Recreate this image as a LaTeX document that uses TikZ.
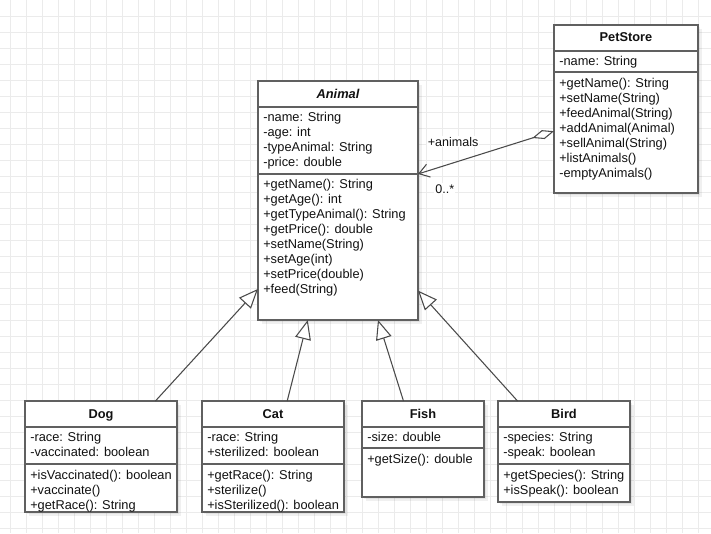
\documentclass[tikz,border=0pt]{standalone}
\usepackage{fontspec}
\setmainfont{Liberation Sans}
\usetikzlibrary{arrows.meta,calc}

\definecolor{gridline}{HTML}{EBEBEB}
\definecolor{boxline}{HTML}{606060}
\definecolor{wire}{HTML}{4A4A4A}
\definecolor{ink}{HTML}{111111}

\tikzset{
  x=0.75pt, y=-0.75pt,
  gridrule/.style={draw=gridline, line width=0.75pt},
  classbox/.style={draw=boxline, fill=white, line width=1pt, inner sep=0pt, outer sep=0pt},
  shadowfill/.style={fill=black, opacity=0.06},
  divider/.style={draw=boxline, line width=1pt},
  member/.style={font=\fontsize{9.6}{11.25}\selectfont, text=ink, inner sep=0pt, anchor=base west},
  classtitle/.style={font=\fontsize{9.6}{11.25}\selectfont\bfseries, text=ink, inner sep=0pt, anchor=base},
  edgelabel/.style={font=\fontsize{9.4}{11}\selectfont, text=ink, inner sep=0.8pt, fill=white, anchor=base west},
  inherits/.style={draw=wire, line width=0.8pt, -{Triangle[length=14.5pt, width=12pt, fill=white]}},
  aggregates/.style={draw=wire, line width=0.8pt,
    {Diamond[length=17pt, width=7pt, fill=white]}-{Straight Barb[length=7.5pt, width=10pt]}},
}

% frame of a class: shadow, then the box (name, x, y, width, height)
\newcommand\classframe[5]{%
  \fill[shadowfill] (#2+2,#3+2) rectangle ++(#4,#5);
  \fill[shadowfill] (#2+4,#3+4) rectangle ++(#4,#5);
  \node[classbox, minimum width=#4*0.75pt, minimum height=#5*0.75pt, anchor=north west] (#1) at (#2,#3) {};
}
% horizontal compartment divider (box, offset from top)
\newcommand\classdivider[2]{%
  \draw[divider] ($(#1.north west)+(0,#2)$) -- ($(#1.north east)+(0,#2)$);
}
% list of members (prefix, box, first baseline offset, entries)
\newcommand\classmembers[4]{%
  \foreach \m [count=\i] in {#4}
    \node[member] (#1-\i) at ($(#2.north west)+(5,#3+15*\i-15)$) {\m};
}

\begin{document}
\begin{tikzpicture}
  \useasboundingbox (0,0) rectangle (711,533);
  \fill[white] (0,0) rectangle (711,533);

  % background grid
  \foreach \gx in {0,...,43}
    \draw[gridrule] (10+16*\gx,0) -- (10+16*\gx,533);
  \foreach \gy in {0,...,32}
    \draw[gridrule] (0,16.7+16*\gy) -- (711,16.7+16*\gy);

  % Animal
  \classframe{animal}{258}{81}{160}{239}
  \classdivider{animal}{26}
  \classdivider{animal}{93}
  \node[classtitle, font=\fontsize{9.6}{11.25}\selectfont\bfseries\itshape] (animal-title) at ($(animal.north)+(0,17)$) {Animal};
  \classmembers{animal-attr}{animal}{40.5}{-name: String, -age: int, -typeAnimal: String, -price: double}
  \classmembers{animal-op}{animal}{107.5}{+getName(): String, +getAge(): int, +getTypeAnimal(): String, +getPrice(): double, +setName(String), +setAge(int), +setPrice(double), +feed(String)}

  % PetStore
  \classframe{petstore}{554}{25}{144}{168}
  \classdivider{petstore}{26}
  \classdivider{petstore}{47}
  \node[classtitle] (petstore-title) at ($(petstore.north)+(0,16.8)$) {PetStore};
  \classmembers{petstore-attr}{petstore}{40.5}{-name: String}
  \classmembers{petstore-op}{petstore}{62}{+getName(): String, +setName(String), +feedAnimal(String), +addAnimal(Animal), +sellAnimal(String), +listAnimals(), -emptyAnimals()}

  % Dog
  \classframe{dog}{25}{401}{152}{111}
  \classdivider{dog}{26}
  \classdivider{dog}{63}
  \node[classtitle] (dog-title) at ($(dog.north)+(0,17)$) {Dog};
  \classmembers{dog-attr}{dog}{40.5}{-race: String, -vaccinated: boolean}
  \classmembers{dog-op}{dog}{78.5}{+isVaccinated(): boolean, +vaccinate(), +getRace(): String}

  % Cat
  \classframe{cat}{202}{401}{142}{111}
  \classdivider{cat}{26}
  \classdivider{cat}{63}
  \node[classtitle] (cat-title) at ($(cat.north)+(0,17)$) {Cat};
  \classmembers{cat-attr}{cat}{40.5}{-race: String, +sterilized: boolean}
  \classmembers{cat-op}{cat}{78.5}{+getRace(): String, +sterilize(), +isSterilized(): boolean}

  % Fish
  \classframe{fish}{362}{401}{122}{96}
  \classdivider{fish}{26}
  \classdivider{fish}{47}
  \node[classtitle] (fish-title) at ($(fish.north)+(0,17)$) {Fish};
  \classmembers{fish-attr}{fish}{40.5}{-size: double}
  \classmembers{fish-op}{fish}{62}{+getSize(): double}

  % Bird
  \classframe{bird}{498}{401}{132}{101}
  \classdivider{bird}{26}
  \classdivider{bird}{63}
  \node[classtitle] (bird-title) at ($(bird.north)+(0,17)$) {Bird};
  \classmembers{bird-attr}{bird}{40.5}{-species: String, -speak: boolean}
  \classmembers{bird-op}{bird}{78.5}{+getSpecies(): String, +isSpeak(): boolean}

  % generalizations
  \draw[inherits] ($(dog.north west)!0.858!(dog.north east)$) -- ($(animal.north west)!0.87!(animal.south west)$);
  \draw[inherits] ($(cat.north west)!0.60!(cat.north east)$) -- ($(animal.south west)!0.311!(animal.south east)$);
  \draw[inherits] ($(fish.north west)!0.34!(fish.north east)$) -- ($(animal.south west)!0.75!(animal.south east)$);
  \draw[inherits] ($(bird.north west)!0.148!(bird.north east)$) -- ($(animal.north east)!0.877!(animal.south east)$);

  % aggregation PetStore -> Animal
  \draw[aggregates] ($(petstore.north west)!0.632!(petstore.south west)$) -- ($(animal.north east)!0.389!(animal.south east)$);
  \node[edgelabel] (role-animals) at (426.5,146) {+animals};
  \node[edgelabel] (mult-animals) at (434,193) {0..*};
\end{tikzpicture}
\end{document}
